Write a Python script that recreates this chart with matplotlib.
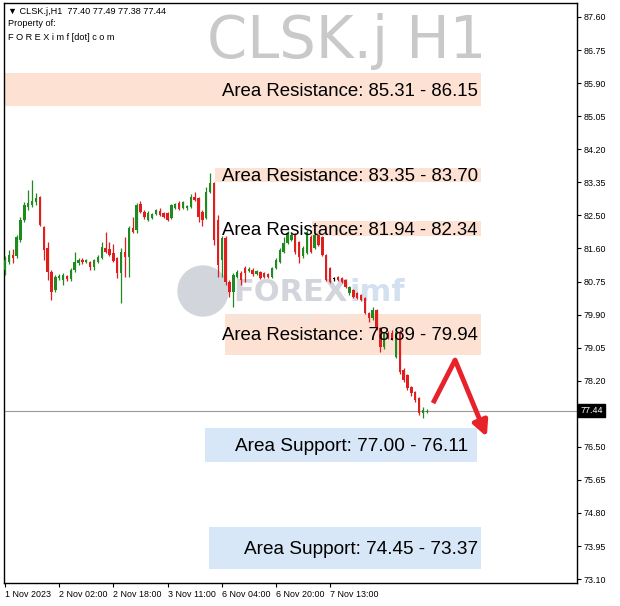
import numpy as np
import matplotlib.pyplot as plt
from matplotlib.patches import Rectangle, Ellipse
from matplotlib.transforms import blended_transform_factory

# hourly candles
opens = [81.07, 81.28, 81.46, 81.43, 81.85, 82.36, 82.70, 82.75, 82.83, 82.96,
         82.18, 81.64, 81.02, 80.56, 80.87, 80.82, 80.92, 80.84, 81.07, 81.25,
         81.33, 81.28, 81.28, 81.15, 81.28, 81.38, 81.64, 81.62, 81.51, 81.38,
         81.00, 81.54, 81.41, 82.16, 82.11, 82.78, 82.57, 82.36, 82.42, 82.52,
         82.60, 82.54, 82.54, 82.42, 82.67, 82.80, 82.67, 82.67, 82.70, 82.96,
         82.93, 82.57, 82.42, 83.09, 83.32, 82.36, 81.33, 81.90, 80.76, 80.51,
         80.89, 81.00, 81.13, 81.05, 81.07, 80.97, 81.02, 81.00, 80.97, 80.89,
         81.13, 81.28, 81.54, 81.77, 81.85, 81.98, 81.80, 81.43, 81.51, 81.93,
         81.64, 81.98, 81.93, 81.46, 81.13, 80.84, 80.89, 80.87, 80.82, 80.48,
         80.56, 80.48, 80.43, 80.35, 79.96, 79.84, 80.04, 79.58, 79.09, 79.45,
         79.45, 78.83, 79.47, 78.49, 78.37, 78.05, 77.93, 77.77, 77.38, 77.40]
highs = [81.43, 81.59, 81.62, 81.98, 82.44, 82.83, 83.14, 83.40, 83.06, 82.98,
         82.21, 81.80, 81.07, 80.95, 80.97, 81.00, 80.95, 81.13, 81.54, 81.38,
         81.38, 81.36, 81.31, 81.36, 81.46, 81.80, 82.05, 81.80, 81.75, 81.41,
         81.64, 81.93, 82.21, 82.44, 82.80, 82.85, 82.62, 82.60, 82.54, 82.65,
         82.67, 82.57, 82.57, 82.78, 82.80, 82.85, 82.85, 82.75, 83.03, 83.09,
         82.96, 82.62, 83.22, 83.57, 83.34, 82.49, 81.95, 81.95, 80.82, 81.00,
         81.07, 81.05, 81.18, 81.15, 81.13, 81.07, 81.05, 81.02, 81.00, 81.15,
         81.38, 81.64, 81.93, 82.08, 82.03, 82.03, 81.82, 81.69, 82.11, 81.98,
         82.03, 82.00, 81.95, 81.49, 81.15, 80.89, 80.92, 80.89, 80.84, 80.66,
         80.58, 80.51, 80.45, 80.38, 79.99, 80.12, 80.07, 79.60, 79.47, 79.50,
         79.53, 79.53, 79.53, 78.54, 78.39, 78.08, 77.95, 77.80, 77.54, 77.49]
lows = [80.95, 81.23, 81.25, 81.38, 81.80, 82.31, 82.62, 82.70, 82.75, 82.21,
        81.33, 80.82, 80.30, 80.51, 80.82, 80.69, 80.79, 80.79, 81.02, 81.20,
        81.23, 81.25, 81.07, 81.07, 81.25, 81.36, 81.51, 81.43, 81.28, 80.87,
        80.22, 80.89, 80.89, 82.03, 82.03, 82.54, 82.39, 82.34, 82.39, 82.49,
        82.47, 82.42, 82.34, 82.39, 82.65, 82.62, 82.65, 82.62, 82.67, 82.85,
        82.31, 82.21, 82.39, 83.06, 81.72, 80.89, 80.89, 80.69, 80.38, 80.12,
        80.87, 80.69, 80.76, 81.02, 80.92, 80.95, 80.84, 80.87, 80.87, 80.87,
        81.10, 81.25, 81.51, 81.75, 81.82, 81.49, 81.25, 81.38, 81.49, 81.51,
        81.62, 81.69, 81.43, 80.79, 80.74, 80.79, 80.79, 80.74, 80.61, 80.43,
        80.35, 80.33, 80.27, 79.94, 79.73, 79.78, 79.53, 78.96, 79.04, 79.30,
        79.27, 78.80, 78.39, 78.18, 77.98, 77.82, 77.67, 77.33, 77.26, 77.38]
closes = [81.33, 81.46, 81.38, 81.93, 82.36, 82.75, 82.80, 82.85, 82.93, 82.24,
          81.59, 81.02, 80.51, 80.89, 80.92, 80.95, 80.84, 81.07, 81.28, 81.33,
          81.28, 81.33, 81.15, 81.33, 81.41, 81.67, 81.54, 81.46, 81.31, 81.00,
          81.54, 81.41, 82.16, 82.05, 82.75, 82.57, 82.44, 82.54, 82.52, 82.62,
          82.49, 82.44, 82.36, 82.75, 82.78, 82.65, 82.83, 82.73, 82.96, 82.88,
          82.44, 82.36, 83.09, 83.32, 81.85, 81.20, 81.90, 80.76, 80.51, 80.95,
          81.02, 80.82, 81.00, 81.10, 80.97, 81.05, 80.87, 80.89, 80.89, 81.13,
          81.33, 81.59, 81.77, 82.03, 81.98, 81.54, 81.41, 81.64, 82.05, 81.54,
          81.98, 81.72, 81.46, 80.82, 80.76, 80.84, 80.82, 80.76, 80.64, 80.64,
          80.38, 80.35, 80.30, 79.96, 79.84, 80.04, 79.58, 79.09, 79.45, 79.35,
          79.32, 79.47, 78.44, 78.24, 78.03, 77.90, 77.72, 77.38, 77.46, 77.44]

time_ticks = [0, 14, 28, 42, 56, 70, 84]
time_labels = ["1 Nov 2023", "2 Nov 02:00", "2 Nov 18:00", "3 Nov 11:00",
               "6 Nov 04:00", "6 Nov 20:00", "7 Nov 13:00"]
price_labels = ["73.10", "73.95", "74.80", "75.65", "76.50", "", "78.20",
                "79.05", "79.90", "80.75", "81.60", "82.50", "83.35", "84.20",
                "85.05", "85.90", "86.75", "87.60"]

res_low = [85.31, 83.35, 81.94, 78.89]
res_high = [86.15, 83.70, 82.34, 79.94]
sup_high = [77.00, 74.45]
sup_low = [76.11, 73.37]

last_price = 77.44
arrow_path_x = [110.6, 116.3, 124.5]
arrow_path_y = [77.64, 78.75, 76.77]

plt.rcParams["font.family"] = ["DejaVu Sans"]

fig = plt.figure(figsize=(6.2, 6.06), dpi=100)
ax = fig.add_axes([4 / 620, 23 / 606, 573 / 620, 580 / 606])
ax.set_xlim(-0.26, 147.8)
ax.set_ylim(73.0, 87.96)

# watermark
wm = "#d2d5dc"
ax.add_patch(Ellipse((203 / 620, 1 - 291 / 606), 50 / 620, 50 / 606,
                     transform=fig.transFigure, color=wm, zorder=0.5))
ax.text(233 / 620, 1 - 292 / 606, "FOREX", transform=fig.transFigure,
        fontsize=22, fontweight="bold", color=wm, va="center", ha="left", zorder=0.6)
ax.text(349 / 620, 1 - 292 / 606, "imf", transform=fig.transFigure,
        fontsize=22, fontweight="bold", color="#d3e0ef", va="center", ha="left", zorder=0.6)
ax.text(230 / 620, 1 - 321 / 606, "TRADING THE ZONE", transform=fig.transFigure,
        fontsize=9, color="#ece6e4", va="center", ha="left", zorder=1.5)

# zones
res_x = [(-0.3, 123.0), (54.3, 123.0), (79.3, 123.0), (56.8, 123.0)]
for (x0, x1), lo, hi in zip(res_x, res_low, res_high):
    ax.add_patch(Rectangle((x0, lo), x1 - x0, hi - lo, facecolor="#fde2d4",
                           edgecolor="none", zorder=1))
    ax.text(122.2, (lo + hi) / 2 - 0.04, f"Area Resistance: {lo:.2f} - {hi:.2f}",
            ha="right", va="center", fontsize=13.4, family="Liberation Sans",
            color="black", zorder=5)
sup_x = [(51.7, 122.0), (52.7, 123.0)]
for (x0, x1), hi, lo in zip(sup_x, sup_high, sup_low):
    ax.add_patch(Rectangle((x0, lo), x1 - x0, hi - lo, facecolor="#d8e7f7",
                           edgecolor="none", zorder=1))
    ax.text(x1 - 2.3 if x1 < 123 else x1 - 0.8, (lo + hi) / 2 - 0.04,
            f"Area Support: {hi:.2f} - {lo:.2f}",
            ha="right", va="center", fontsize=13.7, family="Liberation Sans",
            color="black", zorder=5)

# candles
idx = np.arange(len(closes))
o = np.array(opens)
c = np.array(closes)
colors = np.where(c > o, "#1f8a1f", np.where(c < o, "#e01e1e", "black"))
ax.vlines(idx, lows, highs, colors=colors, linewidth=0.9, zorder=3)
body = np.where(np.abs(c - o) < 0.02, 0.02, c - o)
ax.bar(idx, body, bottom=o, width=0.62, color=colors, linewidth=0, zorder=3)

# last price line
ax.axhline(last_price, color="#9a9a9a", linewidth=0.8, zorder=2)

# forecast arrow
ax.plot(arrow_path_x[:2], arrow_path_y[:2], color="#e8222b", linewidth=3.5,
        solid_capstyle="butt", zorder=6)
ax.annotate("", xy=(arrow_path_x[2], arrow_path_y[2]),
            xytext=(arrow_path_x[1], arrow_path_y[1]),
            arrowprops=dict(arrowstyle="-|>,head_length=0.9,head_width=0.45",
                            color="#e8222b", lw=3.5, shrinkA=0, shrinkB=0),
            zorder=6)

# title and header text
ax.text(347 / 620, 1 - 42 / 606, "CLSK.j H1", transform=fig.transFigure,
        fontsize=41.5, color="#c9c9c9", ha="center", va="center", zorder=0.7)
hdr = dict(transform=fig.transFigure, fontsize=6.6, ha="left", va="center",
           family=["Liberation Sans", "DejaVu Sans"])
ax.text(8 / 620, 1 - 11 / 606, "\u25bc CLSK.j,H1  77.40 77.49 77.38 77.44", **hdr)
ax.text(8 / 620, 1 - 24 / 606, "Property of:", **hdr)
ax.text(8 / 620, 1 - 37 / 606, "F O R E X i m f [dot] c o m", **hdr)

# axes styling
ax.yaxis.tick_right()
yt = 73.10 + (87.60 - 73.10) / 17 * np.arange(18)
ax.set_yticks(yt)
ax.set_yticklabels(price_labels, family="Liberation Sans")
ax.set_xticks(time_ticks)
ax.set_xticklabels(time_labels, ha="left", family="Liberation Sans")
ax.tick_params(axis="both", labelsize=6.4, length=3, width=0.8, direction="out",
               pad=2, colors="black")
for sp in ax.spines.values():
    sp.set_linewidth(1.0)
    sp.set_color("black")

tr = blended_transform_factory(ax.transAxes, ax.transData)
ax.text(1.006, last_price, f"{last_price:.2f}", transform=tr, fontsize=6.4,
        family="Liberation Sans", color="white", va="center", ha="left",
        bbox=dict(facecolor="black", edgecolor="black", pad=1.4), clip_on=False)

fig.savefig("out.png", dpi=100)
